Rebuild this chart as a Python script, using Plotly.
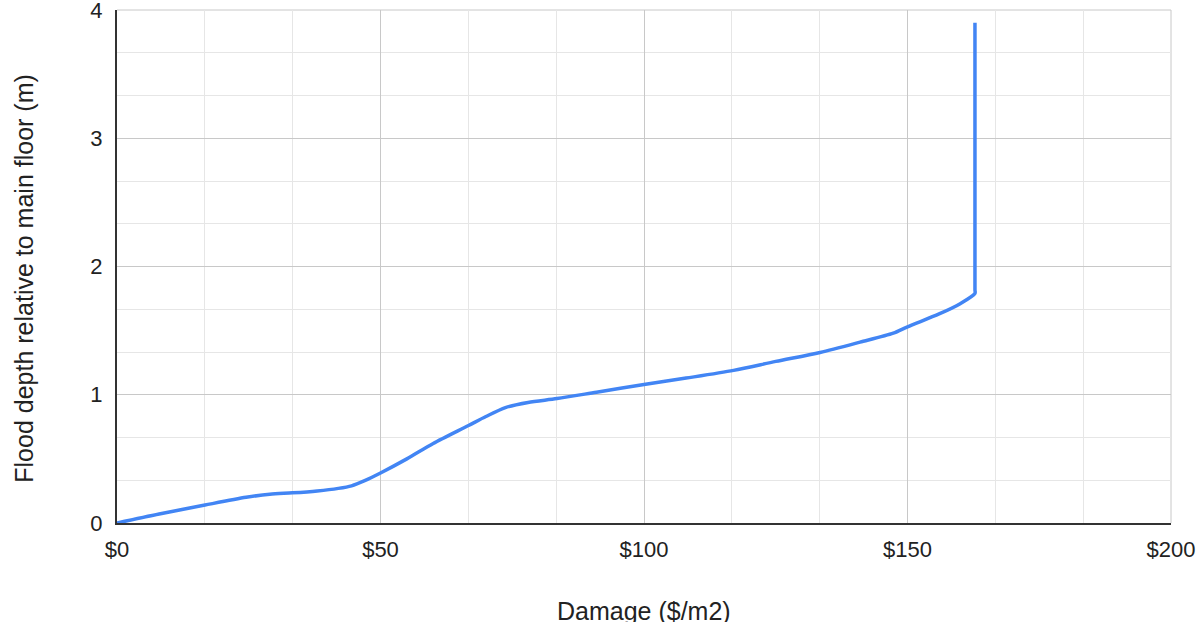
import plotly.graph_objects as go

# Depth-damage curve: damage per square metre against flood depth
damage = [0, 8, 16.7, 24.5, 29, 33.3, 38, 42, 44.5, 47, 50, 55, 60, 66.7, 70,
          73.7, 78, 83.5, 91, 100, 108, 117, 125, 133.4, 141, 147.3, 150,
          156, 160, 162.8, 162.8, 162.8]
depth = [0, 0.07, 0.14, 0.20, 0.225, 0.235, 0.25, 0.27, 0.29, 0.33, 0.39, 0.50,
         0.62, 0.76, 0.83, 0.90, 0.94, 0.97, 1.02, 1.08, 1.13, 1.19, 1.26, 1.33,
         1.41, 1.48, 1.53, 1.63, 1.71, 1.79, 1.82, 3.9]

x_ticks = [0, 50, 100, 150, 200]
x_tick_text = ["$0", "$50", "$100", "$150", "$200"]
y_ticks = [0, 1, 2, 3, 4]

x_title = "Damage ($/m2)"
y_title = "Flood depth relative to main floor (m)"

font_family = "Liberation Sans, Arial, sans-serif"
text_color = "#222222"

fig = go.Figure()
fig.add_trace(go.Scatter(
    x=damage, y=depth, mode="lines",
    line=dict(color="#4285f4", width=3.5, shape="spline", smoothing=0.8),
    hoverinfo="skip", showlegend=False,
))

fig.update_layout(
    width=1199, height=622,
    margin=dict(l=117, r=28, t=10, b=99, autoexpand=False),
    paper_bgcolor="white", plot_bgcolor="white",
    font=dict(family=font_family, size=22, color=text_color),
    xaxis=dict(
        range=[0, 200], tickvals=x_ticks, ticktext=x_tick_text,
        automargin=False, ticklabeloverflow="allow",
        showgrid=True, gridcolor="#c8c8c8", gridwidth=1,
        minor=dict(dtick=50 / 3, tick0=0, showgrid=True,
                   gridcolor="#e6e6e6", gridwidth=1),
        showline=True, linecolor="#333333", linewidth=2,
        zeroline=False, ticks="", ticklabelstandoff=6,
        tickfont=dict(size=22, color=text_color),
    ),
    yaxis=dict(
        range=[0, 4], tickvals=y_ticks,
        automargin=False, ticklabeloverflow="allow",
        showgrid=True, gridcolor="#c8c8c8", gridwidth=1,
        minor=dict(dtick=1 / 3, tick0=0, showgrid=True,
                   gridcolor="#e6e6e6", gridwidth=1),
        showline=True, linecolor="#333333", linewidth=2,
        zeroline=False, ticks="", ticklabelstandoff=8,
        tickfont=dict(size=22, color=text_color),
    ),
    annotations=[
        dict(text=x_title, xref="paper", yref="paper", x=0.5, y=-0.172,
             xanchor="center", yanchor="middle", showarrow=False,
             font=dict(size=25, color=text_color)),
        dict(text=y_title, xref="paper", yref="paper", x=-0.0885, y=0.4776,
             xanchor="center", yanchor="middle", textangle=-90,
             showarrow=False, font=dict(size=25, color=text_color)),
    ],
)

# Light frame along the top and right edges of the plotting area
fig.add_shape(type="line", xref="paper", yref="paper", x0=0, x1=1, y0=1, y1=1,
              line=dict(color="#c8c8c8", width=1), layer="below")
fig.add_shape(type="line", xref="paper", yref="paper", x0=1, x1=1, y0=0, y1=1,
              line=dict(color="#c8c8c8", width=1), layer="below")

fig.write_html("out.html")
